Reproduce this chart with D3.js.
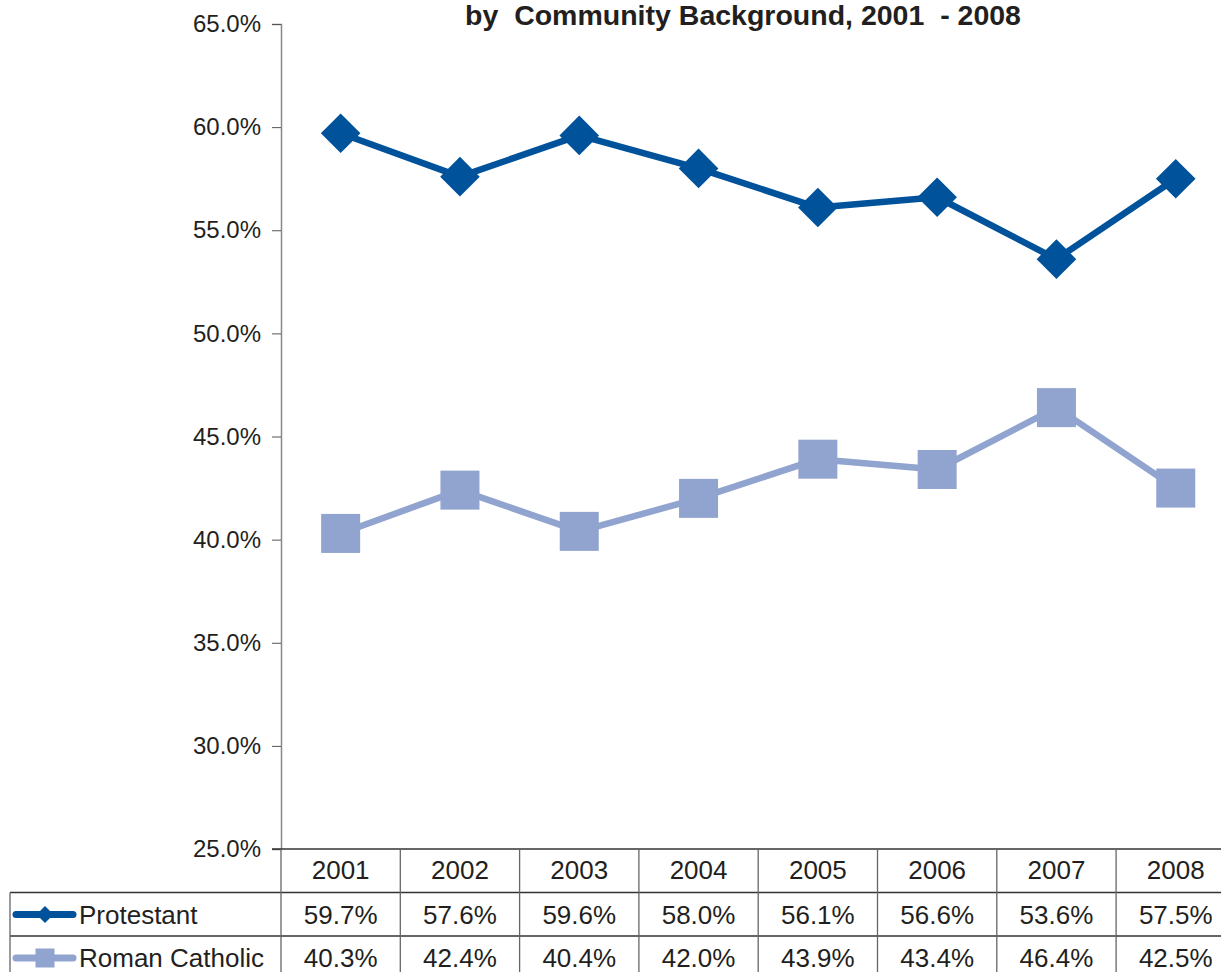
<!DOCTYPE html>
<html>
<head>
<meta charset="utf-8">
<script src="https://cdn.jsdelivr.net/npm/d3@7/dist/d3.min.js"></script>
<style>
  html, body { margin: 0; padding: 0; background: #fff; overflow: hidden; }
  svg { display: block; font-family: "Liberation Sans", Arial, sans-serif; }
</style>
</head>
<body>
<svg id="chart" width="1221" height="972"></svg>
<script>
// Share of applicants by community background
const years = ["2001", "2002", "2003", "2004", "2005", "2006", "2007", "2008"];
const protestant = [59.7, 57.6, 59.6, 58.0, 56.1, 56.6, 53.6, 57.5];
const romanCatholic = [40.3, 42.4, 40.4, 42.0, 43.9, 43.4, 46.4, 42.5];
const seriesNames = ["Protestant", "Roman Catholic"];
const yTicks = [25, 30, 35, 40, 45, 50, 55, 60, 65];
const titleText = "by  Community Background, 2001  - 2008";

(function () {
  const series = [
    { name: seriesNames[0], values: protestant, color: "#00529b", marker: "diamond" },
    { name: seriesNames[1], values: romanCatholic, color: "#91a4cf", marker: "square" }
  ];

  const svg = d3.select("#chart");
  const plotLeft = 281, plotTop = 24, plotBottom = 849, colW = 119.3, rowH = 43.5;

  const x = d3.scaleBand().domain(years).range([plotLeft, plotLeft + colW * years.length]).padding(0);
  const y = d3.scaleLinear().domain([25, 65]).range([plotBottom, plotTop]);

  // title (spacing kept as written)
  svg.append("text")
    .attr("x", 743).attr("y", 25)
    .attr("text-anchor", "middle")
    .style("white-space", "pre")
    .attr("font-size", 28.5).attr("font-weight", "bold").attr("fill", "#231f20")
    .text(titleText);

  // y axis
  const yAxis = d3.axisLeft(y).tickValues(yTicks).tickSize(9).tickPadding(11)
    .tickFormat(d => d3.format(".1f")(d) + "%");
  const gy = svg.append("g").attr("transform", `translate(${plotLeft},0)`).call(yAxis);
  gy.select(".domain").attr("stroke", "#888").attr("stroke-width", 1.5);
  gy.selectAll(".tick line").attr("stroke", "#555");
  gy.selectAll(".tick text").attr("font-size", 24).attr("fill", "#231f20")
    .attr("font-family", "Liberation Sans, Arial, sans-serif");

  // lines and markers
  const line = d3.line().x((d, i) => x(years[i]) + x.bandwidth() / 2).y(d => y(d));
  series.forEach(s => {
    svg.append("path").datum(s.values)
      .attr("d", line).attr("fill", "none")
      .attr("stroke", s.color).attr("stroke-width", 6.5).attr("stroke-linejoin", "round");
    const g = svg.append("g");
    s.values.forEach((v, i) => {
      const cx = x(years[i]) + x.bandwidth() / 2, cy = y(v);
      if (s.marker === "diamond") {
        g.append("path").attr("d", d3.symbol().type(d3.symbolSquare).size(28 * 28)())
          .attr("transform", `translate(${cx},${cy}) rotate(45)`).attr("fill", s.color);
      } else {
        g.append("rect").attr("x", cx - 19.5).attr("y", cy - 19.5)
          .attr("width", 39).attr("height", 39).attr("fill", s.color);
      }
    });
  });

  // data table
  const tableRight = plotLeft + colW * years.length;
  const hgrid = svg.append("g").attr("stroke", "#333").attr("stroke-width", 1.3);
  hgrid.append("line").attr("x1", plotLeft - 9).attr("x2", tableRight).attr("y1", plotBottom).attr("y2", plotBottom);
  [1, 2].forEach(r => {
    hgrid.append("line").attr("x1", 10).attr("x2", tableRight)
      .attr("y1", plotBottom + r * rowH).attr("y2", plotBottom + r * rowH);
  });
  const vgrid = svg.append("g").attr("stroke", "#666").attr("stroke-width", 1.3);
  vgrid.append("line").attr("x1", 10).attr("x2", 10).attr("y1", plotBottom + rowH).attr("y2", 972);
  years.forEach(yr => {
    vgrid.append("line").attr("x1", x(yr)).attr("x2", x(yr)).attr("y1", plotBottom).attr("y2", 972);
  });

  const tt = svg.append("g").attr("font-size", 26).attr("fill", "#231f20").attr("text-anchor", "middle");
  years.forEach(yr => {
    tt.append("text").attr("x", x(yr) + x.bandwidth() / 2).attr("y", plotBottom + 30).text(yr);
  });
  series.forEach((s, r) => {
    const rowY = plotBottom + (r + 1) * rowH;
    s.values.forEach((v, i) => {
      tt.append("text").attr("x", x(years[i]) + x.bandwidth() / 2).attr("y", rowY + 31)
        .text(d3.format(".1f")(v) + "%");
    });
    // legend key
    const ky = rowY + 22;
    svg.append("line").attr("x1", 16).attr("x2", 73).attr("y1", ky).attr("y2", ky)
      .attr("stroke", s.color).attr("stroke-width", 7).attr("stroke-linecap", "round");
    if (s.marker === "diamond") {
      svg.append("path").attr("d", d3.symbol().type(d3.symbolSquare).size(12 * 12)())
        .attr("transform", `translate(45,${ky}) rotate(45)`).attr("fill", s.color);
    } else {
      svg.append("rect").attr("x", 35.5).attr("y", ky - 9.5).attr("width", 19).attr("height", 19)
        .attr("fill", s.color);
    }
    svg.append("text").attr("x", 79).attr("y", rowY + 31).attr("font-size", 26)
      .attr("fill", "#231f20").text(s.name);
  });
})();
</script>
</body>
</html>
